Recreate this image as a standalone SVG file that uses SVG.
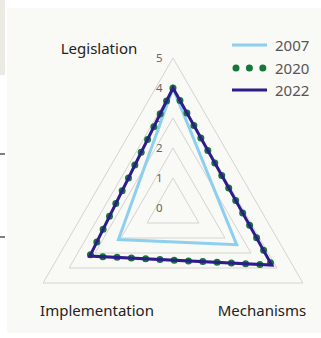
<svg xmlns="http://www.w3.org/2000/svg" width="321" height="338" viewBox="0 0 321 338">
<style>
.grid{fill:none;stroke:#d3d3cf;stroke-width:1}
.tick{font-family:"Noto Sans","Open Sans",sans-serif;font-size:11.5px;fill:#666;text-anchor:end}
.axis{font-family:"Noto Sans","Open Sans",sans-serif;font-size:15px;fill:#222;text-anchor:middle}
.leg{font-family:"Noto Sans","Open Sans",sans-serif;font-size:15px;fill:#555}
.s2007{fill:none;stroke:#8ccfee;stroke-width:3;stroke-linejoin:miter}
.s2020{fill:none;stroke:#16773a;stroke-width:7;stroke-linecap:round;stroke-dasharray:0 14.3}
.s2022{fill:none;stroke:#2d1d8a;stroke-width:3;stroke-linejoin:miter}
</style>
<rect x="0" y="0" width="5" height="75" fill="#ebebe4"/>
<rect x="7" y="8" width="314" height="325" fill="#f9f9f5"/>
<line x1="0" y1="154" x2="5" y2="154" stroke="#555" stroke-width="1.5"/>
<line x1="0" y1="237" x2="5" y2="237" stroke="#555" stroke-width="1.5"/>
<g id="grid">
<polygon class="grid" points="173,178 198.98,223 147.02,223"/>
<polygon class="grid" points="173,148 224.96,238 121.04,238"/>
<polygon class="grid" points="173,118 250.94,253 95.06,253"/>
<polygon class="grid" points="173,88 276.92,268 69.08,268"/>
<polygon class="grid" points="173,58 302.9,283 43.1,283"/>
<text class="tick" x="162.5" y="212">0</text>
<text class="tick" x="162.5" y="182">1</text>
<text class="tick" x="162.5" y="152">2</text>
<text class="tick" x="162.5" y="122">3</text>
<text class="tick" x="162.5" y="92">4</text>
<text class="tick" x="162.5" y="62">5</text>
</g>
<g id="axis-labels">
<text id="legislation" class="axis" x="99" y="54">Legislation</text>
<text id="implementation" class="axis" x="97" y="316">Implementation</text>
<text id="mechanisms" class="axis" x="262" y="316">Mechanisms</text>
</g>
<g id="connectors">
<polygon id="series-2007" class="s2007" points="173,88 236.65,244.75 118.44,239.5"/>
<polygon id="series-2020" class="s2020" points="173,88 271.73,265 89.86,256"/>
<polygon id="series-2022" class="s2022" points="173,88 271.73,265 89.86,256"/>
</g>
<g id="legend">
<line class="s2007" x1="232" y1="45" x2="267" y2="45"/>
<text class="leg" x="275" y="50.5">2007</text>
<line x1="236" y1="68" x2="263" y2="68" stroke="#16773a" stroke-width="7" stroke-linecap="round" stroke-dasharray="0 13.4"/>
<text class="leg" x="275" y="73.5">2020</text>
<line class="s2022" x1="232" y1="90" x2="267" y2="90"/>
<text class="leg" x="275" y="96">2022</text>
</g>
</svg>
